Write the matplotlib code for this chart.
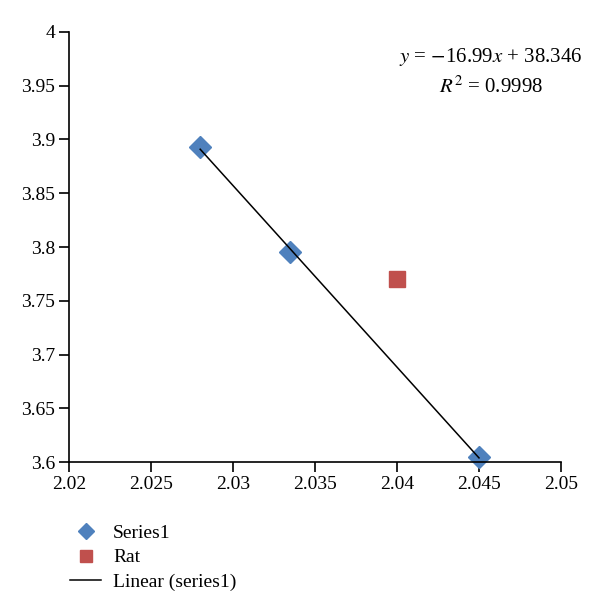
import numpy as np
import matplotlib
matplotlib.use('Agg')
import matplotlib.pyplot as plt

plt.rcParams['font.family'] = ['Liberation Serif', 'DejaVu Serif']
plt.rcParams['mathtext.fontset'] = 'stix'

# data
series1_x = [2.028, 2.0335, 2.045]
series1_y = [3.893, 3.795, 3.605]
rat_x = [2.04]
rat_y = [3.770]
xticks = [2.02, 2.025, 2.03, 2.035, 2.04, 2.045, 2.05]
xlabels = ['2.02', '2.025', '2.03', '2.035', '2.04', '2.045', '2.05']
yticks = [3.6, 3.65, 3.7, 3.75, 3.8, 3.85, 3.9, 3.95, 4.0]
ylabels = ['3.6', '3.65', '3.7', '3.75', '3.8', '3.85', '3.9', '3.95', '4']

fig = plt.figure(figsize=(6, 6.13), dpi=100)
ax = fig.add_axes([0.115, 0.246, 0.82, 0.702])

# linear trend line
slope, icpt = np.polyfit(series1_x, series1_y, 1)
tx = np.array([min(series1_x), max(series1_x)])
ax.plot(tx, slope * tx + icpt, color='black', lw=1.1, zorder=3, label='Linear (series1)')

ax.plot(series1_x, series1_y, 'D', color='#4F81BD', ms=11, mec='#4F81BD', zorder=2,
        label='Series1', clip_on=False)
ax.plot(rat_x, rat_y, 's', color='#C0504D', ms=12, zorder=2, label='Rat')

ax.set_xlim(2.02, 2.05)
ax.set_ylim(3.6, 4.0)
ax.set_xticks(xticks)
ax.set_xticklabels(xlabels)
ax.set_yticks(yticks)
ax.set_yticklabels(ylabels)
ax.spines['top'].set_visible(False)
ax.spines['right'].set_visible(False)
for s in ['left', 'bottom']:
    ax.spines[s].set_linewidth(1.2)
ax.tick_params(direction='out', length=7, width=1.2, labelsize=14, pad=3)

fig.text(0.818, 0.907, r'$y$ = $-$16.99$x$ + 38.346', ha='center', va='center', fontsize=15)
fig.text(0.818, 0.858, r'$R^{2}$ = 0.9998', ha='center', va='center', fontsize=15)

h, l = ax.get_legend_handles_labels()
order = [1, 2, 0]
fig.legend([h[i] for i in order], [l[i] for i in order], loc='upper left',
           bbox_to_anchor=(0.088, 0.173), frameon=False, fontsize=14,
           handlelength=1.6, labelspacing=0.35, handletextpad=0.6, markerscale=0.75)

fig.savefig('out.png', dpi=100)
